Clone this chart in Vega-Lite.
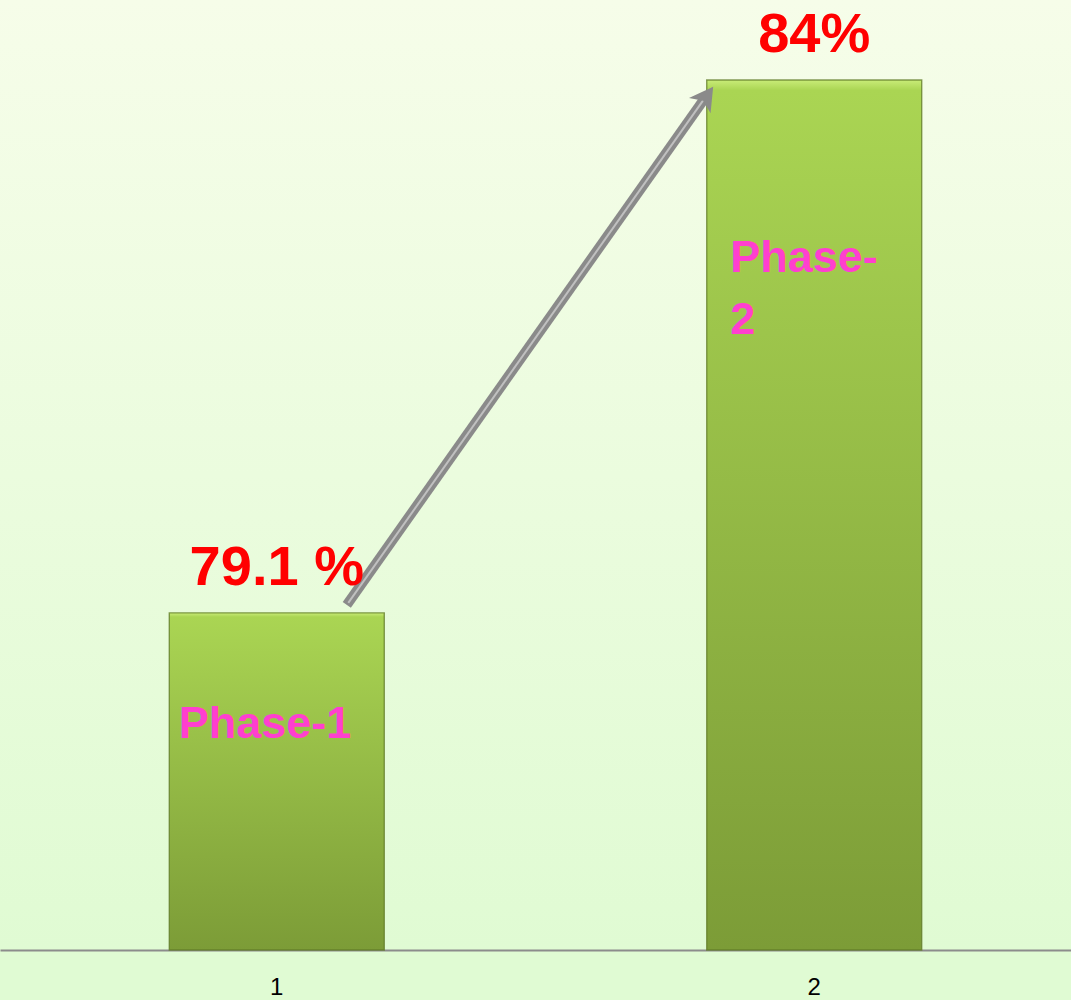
{
  "$schema": "https://vega.github.io/schema/vega-lite/v6.json",
  "width": 1071,
  "height": 950,
  "autosize": {"type": "none"},
  "padding": {"left": 0, "top": 0, "right": 0, "bottom": 50},
  "background": "#e0fbd3",
  "config": {
    "view": {
      "stroke": null,
      "fill": {"gradient": "linear", "x1": 0, "y1": 0, "x2": 0, "y2": 1,
        "stops": [{"offset": 0, "color": "#f6fde9"}, {"offset": 1, "color": "#e0fbd3"}]}
    }
  },
  "data": {"values": [
    {"phase": "1", "value": 79.1, "label": "79.1 %"},
    {"phase": "2", "value": 84, "label": "84%"}
  ]},
  "encoding": {
    "x": {"field": "phase", "type": "ordinal",
      "scale": {"paddingInner": 0.6, "paddingOuter": 0.2964, "align": 0.5314},
      "axis": {"title": null, "labelAngle": 0, "ticks": false, "grid": false,
        "domainColor": "#8c8c8c", "domainWidth": 2,
        "labelFont": "Liberation Sans", "labelFontSize": 24, "labelColor": "#000000",
        "labelBaseline": "alphabetic", "labelPadding": 44}},
    "y": {"field": "value", "type": "quantitative",
      "scale": {"domain": [76, 84.735], "zero": false, "nice": false}, "axis": null}
  },
  "layer": [
    {
      "mark": {"type": "bar",
        "fill": {"gradient": "linear", "x1": 0, "y1": 0, "x2": 0, "y2": 1,
          "stops": [
            {"offset": 0, "color": "#c9ec78"},
            {"offset": 0.012, "color": "#aad553"},
            {"offset": 1, "color": "#7c9c37"}]},
        "stroke": "#5f7a25", "strokeWidth": 1.4, "strokeOpacity": 0.75},
      "encoding": {"y2": {"datum": 76}}
    },
    {
      "data": {"values": [{"from": "1", "to": "2", "v1": 79.1, "v2": 84}]},
      "mark": {"type": "rule", "color": "#8a8a8a", "strokeWidth": 10, "strokeCap": "butt",
        "xOffset": 70, "yOffset": -8, "x2Offset": -109, "y2Offset": 17.6},
      "encoding": {
        "x": {"field": "from", "type": "ordinal"},
        "x2": {"field": "to"},
        "y": {"field": "v1", "type": "quantitative"},
        "y2": {"field": "v2"}
      }
    },
    {
      "data": {"values": [{"from": "1", "to": "2", "v1": 79.1, "v2": 84}]},
      "mark": {"type": "rule", "color": "#c0c0c0", "strokeWidth": 2, "strokeCap": "butt",
        "xOffset": 71.5, "yOffset": -10, "x2Offset": -110, "y2Offset": 19},
      "encoding": {
        "x": {"field": "from", "type": "ordinal"},
        "x2": {"field": "to"},
        "y": {"field": "v1", "type": "quantitative"},
        "y2": {"field": "v2"}
      }
    },
    {
      "data": {"values": [{"to": "2", "v2": 84}]},
      "mark": {"type": "point", "filled": true, "color": "#8a8a8a", "opacity": 1,
        "shape": "M0,-1L1,0.75L0,0.3L-1,0.75Z", "size": 700, "angle": 35.4,
        "xOffset": -108.7, "yOffset": 17.6},
      "encoding": {
        "x": {"field": "to", "type": "ordinal"},
        "y": {"field": "v2", "type": "quantitative"}
      }
    },
    {
      "mark": {"type": "text", "font": "Liberation Sans", "fontWeight": "bold", "fontSize": 56,
        "color": "#ff0000", "baseline": "alphabetic", "dy": -28},
      "encoding": {"text": {"field": "label"}}
    },
    {
      "transform": [{"filter": "datum.phase === '1'"}],
      "mark": {"type": "text", "font": "Liberation Sans", "fontWeight": "bold", "fontSize": 45,
        "color": "#ff3fcf", "align": "left", "baseline": "alphabetic", "dx": -98, "dy": 125,
        "text": "Phase-1"}
    },
    {
      "transform": [{"filter": "datum.phase === '2'"}],
      "mark": {"type": "text", "font": "Liberation Sans", "fontWeight": "bold", "fontSize": 45,
        "color": "#ff3fcf", "align": "left", "baseline": "alphabetic", "dx": -84, "dy": 192,
        "lineHeight": 62, "text": ["Phase-", "2"]}
    }
  ]
}
